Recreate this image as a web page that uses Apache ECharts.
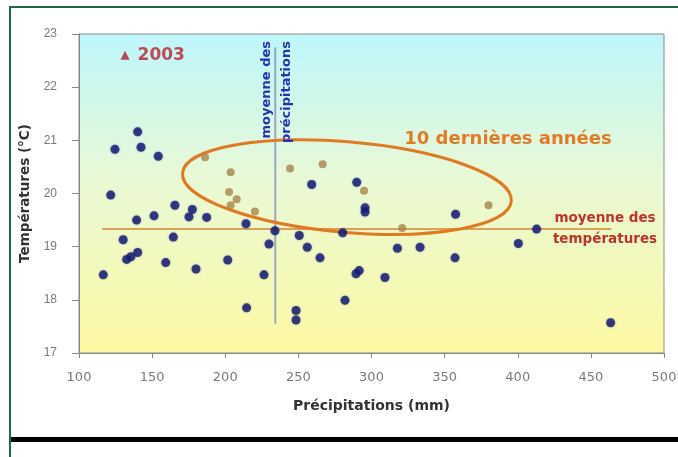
<!DOCTYPE html>
<html>
<head>
<meta charset="utf-8">
<script src="https://cdn.jsdelivr.net/npm/echarts@6/dist/echarts.min.js"></script>
<style>html,body{margin:0;padding:0;background:#fff;}#c{width:678px;height:457px;}</style>
</head>
<body>
<div id="c"></div>
<script>
// Data (précipitations mm, température °C)
var blueYears = [
  [140.1,21.16],[124.6,20.83],[142.4,20.87],[154.2,20.70],[121.7,19.97],
  [165.6,19.78],[177.5,19.70],[175.2,19.56],[139.4,19.50],[151.3,19.58],
  [187.3,19.55],[214.2,19.43],[234.0,19.30],[130.2,19.13],[164.5,19.18],
  [140.1,18.89],[132.6,18.76],[135.5,18.81],[116.6,18.47],[159.3,18.70],
  [180.0,18.58],[201.7,18.75],[229.9,19.05],[226.5,18.47],[214.6,17.85],
  [248.4,17.80],[248.4,17.62],[250.6,19.21],[256.1,18.99],[264.8,18.79],
  [280.3,19.26],[289.4,18.49],[291.6,18.55],[309.2,18.42],[317.7,18.97],
  [333.2,18.99],[281.9,17.99],[259.1,20.17],[289.9,20.21],[295.6,19.73],
  [295.6,19.65],[357.5,19.61],[412.9,19.33],[400.4,19.06],[357.1,18.79],
  [463.5,17.57]
];
var recentYears = [
  [186.2,20.68],[203.7,20.40],[202.6,20.03],[207.8,19.89],[203.7,19.78],
  [220.3,19.66],[244.3,20.47],[266.6,20.55],[294.9,20.05],[321.0,19.35],
  [380.0,19.78]
];
var year2003 = [[131.5,22.6]];
var meanTemp = 19.33, meanTempRange = [116, 464];
var meanPrecip = 234.2, meanPrecipRange = [17.55, 22.75];
var ellipseCenter = [283.2, 20.12], ellipseHalf = [112.8, 0.85], ellipseTiltDeg = -4.9;
var xTicks = [100,150,200,250,300,350,400,450,500];
var yTicks = [17,18,19,20,21,22,23];

var chart = echarts.init(document.getElementById('c'));
var font = 'Liberation Sans, Arial, sans-serif';
var wide = '"DejaVu Sans", sans-serif';
var option = {
  backgroundColor: '#ffffff',
  animation: false,
  grid: {
    left: 79, right: 14, top: 34, bottom: 104, show: true,
    containLabel: false, outerBoundsMode: 'none',
    borderColor: '#8a8a8a', borderWidth: 1,
    backgroundColor: new echarts.graphic.LinearGradient(0,0,0,1,[
      {offset:0,color:'#bdf6fb'},{offset:0.45,color:'#e8f9d6'},{offset:1,color:'#fdf9a2'}])
  },
  xAxis: {
    type: 'value', min: xTicks[0], max: xTicks[xTicks.length-1], interval: 50,
    name: 'Précipitations (mm)', nameLocation: 'middle', nameGap: 46,
    nameTextStyle: {fontFamily: wide, fontWeight: 'bold', fontSize: 14, color: '#333'},
    axisLine: {show: true, lineStyle: {color: '#888'}},
    axisTick: {show: true, length: 5, inside: false, lineStyle: {color: '#888'}},
    axisLabel: {color: '#7a7a7a', fontSize: 13, margin: 18, fontFamily: wide},
    splitLine: {show: false}
  },
  yAxis: {
    type: 'value', min: yTicks[0], max: yTicks[yTicks.length-1], interval: 1,
    name: 'Températures (°C)', nameLocation: 'middle', nameGap: 36, nameRotate: 90,
    nameTextStyle: {fontFamily: wide, fontWeight: 'bold', fontSize: 13.5, color: '#333'},
    axisLine: {show: true, lineStyle: {color: '#888'}},
    axisTick: {show: true, length: 7, lineStyle: {color: '#888'}},
    axisLabel: {color: '#7a7a7a', fontSize: 12, margin: 22, fontFamily: font},
    splitLine: {show: false}
  },
  series: [
    {type:'line', data: [[meanTempRange[0],meanTemp],[meanTempRange[1],meanTemp]], symbol:'none',
     lineStyle:{color:'#d9a15a', width:2}, z:2},
    {type:'line', data: [[meanPrecip,meanPrecipRange[0]],[meanPrecip,meanPrecipRange[1]]], symbol:'none',
     lineStyle:{color:'#9aa6c4', width:2}, z:2},
    {type:'scatter', data: blueYears, symbol:'circle', symbolSize: 9,
     itemStyle:{color:'#141a74', shadowBlur:2, shadowColor:'rgba(20,26,120,0.5)'}, z:4},
    {type:'scatter', data: recentYears, symbol:'circle', symbolSize: 8,
     itemStyle:{color:'#a8854e'}, z:5},
    {type:'scatter', data: year2003, symbol:'triangle', symbolSize: 9,
     itemStyle:{color:'#b01c28'}, z:5,
     label:{show:true, position:'right', distance:8, formatter:'2003', color:'#c01c2a',
            fontSize:17, fontWeight:'bold', fontFamily:wide}}
  ]
};
chart.setOption(option);

var c = chart.convertToPixel({gridIndex:0}, ellipseCenter);
var ex = chart.convertToPixel({gridIndex:0}, [ellipseCenter[0]+ellipseHalf[0], ellipseCenter[1]]);
var ey = chart.convertToPixel({gridIndex:0}, [ellipseCenter[0], ellipseCenter[1]+ellipseHalf[1]]);
chart.setOption({
  graphic: [
    {type:'ellipse', x:c[0], y:c[1], rotation: ellipseTiltDeg*Math.PI/180, z:3,
     shape:{cx:0, cy:0, rx: ex[0]-c[0], ry: c[1]-ey[1]},
     style:{fill:'none', stroke:'#e07a22', lineWidth:3}},
    {type:'text', x:277, y:41, rotation: Math.PI/2, z:10,
     style:{text:'moyenne des\nprécipitations', align:'right', verticalAlign:'middle',
            textAlign:'right', textVerticalAlign:'middle',
            font:'bold 13px '+wide, fill:'#2432b8', lineHeight:20}},
    {type:'text', x:508, y:139, z:10,
     style:{text:'10 dernières années', align:'center', verticalAlign:'middle',
            textAlign:'center', textVerticalAlign:'middle',
            font:'bold 18px '+wide, fill:'#e47a26'}},
    {type:'text', x:605, y:229, z:10,
     style:{text:'moyenne des\ntempératures', align:'center', verticalAlign:'middle',
            textAlign:'center', textVerticalAlign:'middle',
            font:'bold 13.5px '+wide, fill:'#c0342a', lineHeight:21}},
    {type:'rect', shape:{x:9, y:6, width:669, height:2}, style:{fill:'#1e6a48'}, z:10},
    {type:'rect', shape:{x:9, y:6, width:2, height:451}, style:{fill:'#1e6a48'}, z:10},
    {type:'rect', shape:{x:11, y:437, width:667, height:5}, style:{fill:'#000000'}, z:10}
  ]
});
</script>
</body>
</html>
